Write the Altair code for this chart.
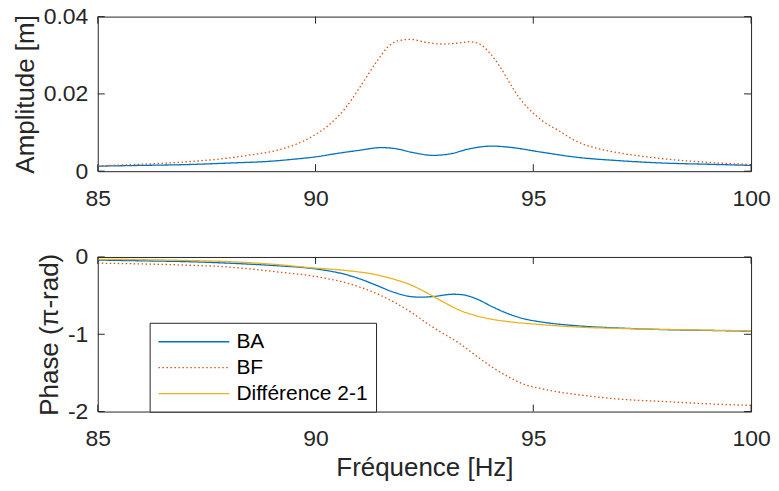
import altair as alt
import pandas as pd

# ---------------- data ----------------
series_names = ["BA", "BF", "Différence 2-1"]
series_colors = ["#0072BD", "#D95319", "#EDB120"]

x_ticks = [85, 90, 95, 100]
amp_ticks = [0, 0.02, 0.04]
phase_ticks = [-2, -1, 0]

# Amplitude, BA
ba_amp_f = [85, 86, 87, 88, 89, 89.5, 90, 90.5, 91, 91.5, 91.8, 92.2, 92.7, 93.1, 93.5, 94.05, 94.45, 95.2, 96, 97, 98, 99, 100]
ba_amp = [0.0013, 0.0015, 0.0017, 0.0021, 0.0026, 0.0031, 0.0037, 0.0046, 0.0054, 0.0061, 0.0059, 0.0049, 0.0041, 0.0045, 0.0057, 0.0065, 0.0062, 0.0049, 0.0036, 0.0027, 0.0021, 0.0018, 0.0015]

# Amplitude, BF
bf_amp_f = [85, 86, 87, 88, 88.5, 89.15, 89.91, 90.29, 90.67, 91.04, 91.42, 91.65, 91.88, 92.18, 92.56, 92.94, 93.31, 93.54, 93.77, 93.99, 94.22, 94.45, 94.67, 94.9, 95.2, 95.58, 95.96, 96.5, 97, 98, 99, 100]
bf_amp = [0.0014, 0.0018, 0.0024, 0.0034, 0.0042, 0.0055, 0.0089, 0.0118, 0.0161, 0.0221, 0.0286, 0.0320, 0.0337, 0.0341, 0.0333, 0.0329, 0.0332, 0.0335, 0.0329, 0.0307, 0.0273, 0.0230, 0.0191, 0.0161, 0.0131, 0.0105, 0.0079, 0.0058, 0.0047, 0.0032, 0.0023, 0.0017]

# Phase, BA
ba_ph_f = [85, 86, 87, 88, 89.15, 89.91, 90.67, 91.04, 91.42, 91.8, 92.18, 92.4, 92.7, 93.16, 93.39, 93.69, 94.07, 94.45, 94.82, 95.2, 96, 97, 98, 99, 100]
ba_ph = [-0.04, -0.05, -0.06, -0.08, -0.115, -0.148, -0.224, -0.288, -0.372, -0.457, -0.512, -0.52, -0.512, -0.482, -0.49, -0.541, -0.647, -0.74, -0.804, -0.842, -0.89, -0.92, -0.94, -0.95, -0.96]

# Phase, BF
bf_ph_f = [85, 86, 87, 88, 88.5, 89.15, 89.91, 90.67, 91.04, 91.42, 91.8, 92.18, 92.56, 92.94, 93.31, 93.69, 94.07, 94.45, 94.82, 95.2, 95.58, 95.96, 97, 98, 99, 100]
bf_ph = [-0.08, -0.09, -0.105, -0.13, -0.155, -0.195, -0.245, -0.33, -0.393, -0.478, -0.584, -0.71, -0.859, -0.994, -1.12, -1.28, -1.43, -1.557, -1.654, -1.705, -1.747, -1.777, -1.84, -1.87, -1.90, -1.92]

# Phase, Différence 2-1
df_ph_f = [85, 86, 87, 88, 89.15, 89.91, 90.67, 91.42, 91.8, 92.18, 92.56, 92.94, 93.31, 93.69, 94.07, 94.45, 95.2, 95.96, 97, 98, 99, 100]
df_ph = [-0.03, -0.035, -0.045, -0.06, -0.10, -0.14, -0.173, -0.233, -0.288, -0.36, -0.465, -0.584, -0.69, -0.76, -0.808, -0.838, -0.876, -0.905, -0.925, -0.937, -0.947, -0.955]

# ---------------- tables ----------------
amp_df = pd.concat([
    pd.DataFrame({"f": ba_amp_f, "v": ba_amp, "s": "BA", "o": range(len(ba_amp_f))}),
    pd.DataFrame({"f": bf_amp_f, "v": bf_amp, "s": "BF", "o": range(len(bf_amp_f))}),
])
ph_df = pd.concat([
    pd.DataFrame({"f": ba_ph_f, "v": ba_ph, "s": "BA", "o": range(len(ba_ph_f))}),
    pd.DataFrame({"f": bf_ph_f, "v": bf_ph, "s": "BF", "o": range(len(bf_ph_f))}),
    pd.DataFrame({"f": df_ph_f, "v": df_ph, "s": "Différence 2-1", "o": range(len(df_ph_f))}),
])

W, H = 655, 155
AX = "#262626"
FONT = "Liberation Sans"
TL = 7  # inward tick length

color_scale = alt.Scale(domain=series_names, range=series_colors)
dash_scale = alt.Scale(domain=series_names, range=[[1, 0], [1.5, 2.5], [1, 0]])


def panel(data, ydomain, yticks, ytitle, xtitle, legend):
    xax = alt.Axis(values=x_ticks, title=xtitle, labelExpr="datum.value + ''",
                   labelFlush=False, labelPadding=16, titlePadding=4)
    yax = alt.Axis(values=yticks, title=ytitle, labelExpr="datum.value + ''",
                   labelPadding=10, titlePadding=5)
    xs = alt.Scale(domain=[85, 100], nice=False, zero=False)
    ys = alt.Scale(domain=ydomain, nice=False, zero=False)
    lines = alt.Chart(data).mark_line(strokeWidth=1.3, interpolate="monotone").encode(
        x=alt.X("f:Q", scale=xs, axis=xax),
        y=alt.Y("v:Q", scale=ys, axis=yax),
        color=alt.Color("s:N", scale=color_scale, legend=legend),
        strokeDash=alt.StrokeDash("s:N", scale=dash_scale, legend=legend),
        order="o:Q",
    )
    xt = pd.DataFrame({"f": x_ticks})
    yt = pd.DataFrame({"v": yticks})
    t1 = alt.Chart(xt).mark_rule(color=AX, strokeWidth=1).encode(
        x=alt.X("f:Q", scale=xs), y=alt.value(0), y2=alt.value(TL))
    t2 = alt.Chart(xt).mark_rule(color=AX, strokeWidth=1).encode(
        x=alt.X("f:Q", scale=xs), y=alt.value(H - TL), y2=alt.value(H))
    t3 = alt.Chart(yt).mark_rule(color=AX, strokeWidth=1).encode(
        y=alt.Y("v:Q", scale=ys), x=alt.value(0), x2=alt.value(TL))
    t4 = alt.Chart(yt).mark_rule(color=AX, strokeWidth=1).encode(
        y=alt.Y("v:Q", scale=ys), x=alt.value(W - TL), x2=alt.value(W))
    return alt.layer(lines, t1, t2, t3, t4).properties(width=W, height=H)


legend = alt.Legend(
    orient="none", legendX=52, legendY=66, title=None,
    fillColor="white", strokeColor=AX, cornerRadius=0,
    padding=8, rowPadding=5, labelFontSize=21, labelFont=FONT, labelColor="#000000",
    symbolType="M-1,0H6", symbolSize=412, symbolStrokeWidth=1.3, labelOffset=57,
    labelLimit=400,
)

top = panel(amp_df, [0, 0.04], amp_ticks, "Amplitude [m]", None, None)
bottom = panel(ph_df, [-2, 0], phase_ticks, "Phase (π-rad)", "Fréquence [Hz]", legend)

chart = alt.vconcat(top, bottom, spacing=34).resolve_scale(
    color="independent", strokeDash="independent"
).resolve_legend(
    color="independent", strokeDash="independent"
).properties(
    padding={"top": -4, "left": 3, "right": 0, "bottom": 0},
    background="white",
).configure_view(
    stroke=AX, strokeWidth=1
).configure_axis(
    domain=False, ticks=False, tickSize=0, grid=False,
    labelFont=FONT, labelFontSize=23, labelColor=AX,
    titleFont=FONT, titleFontSize=26, titleFontWeight="normal", titleColor=AX,
).configure_legend(
    strokeWidth=1
)

chart.save("out.html", embed_options={"renderer": "svg", "actions": False})
